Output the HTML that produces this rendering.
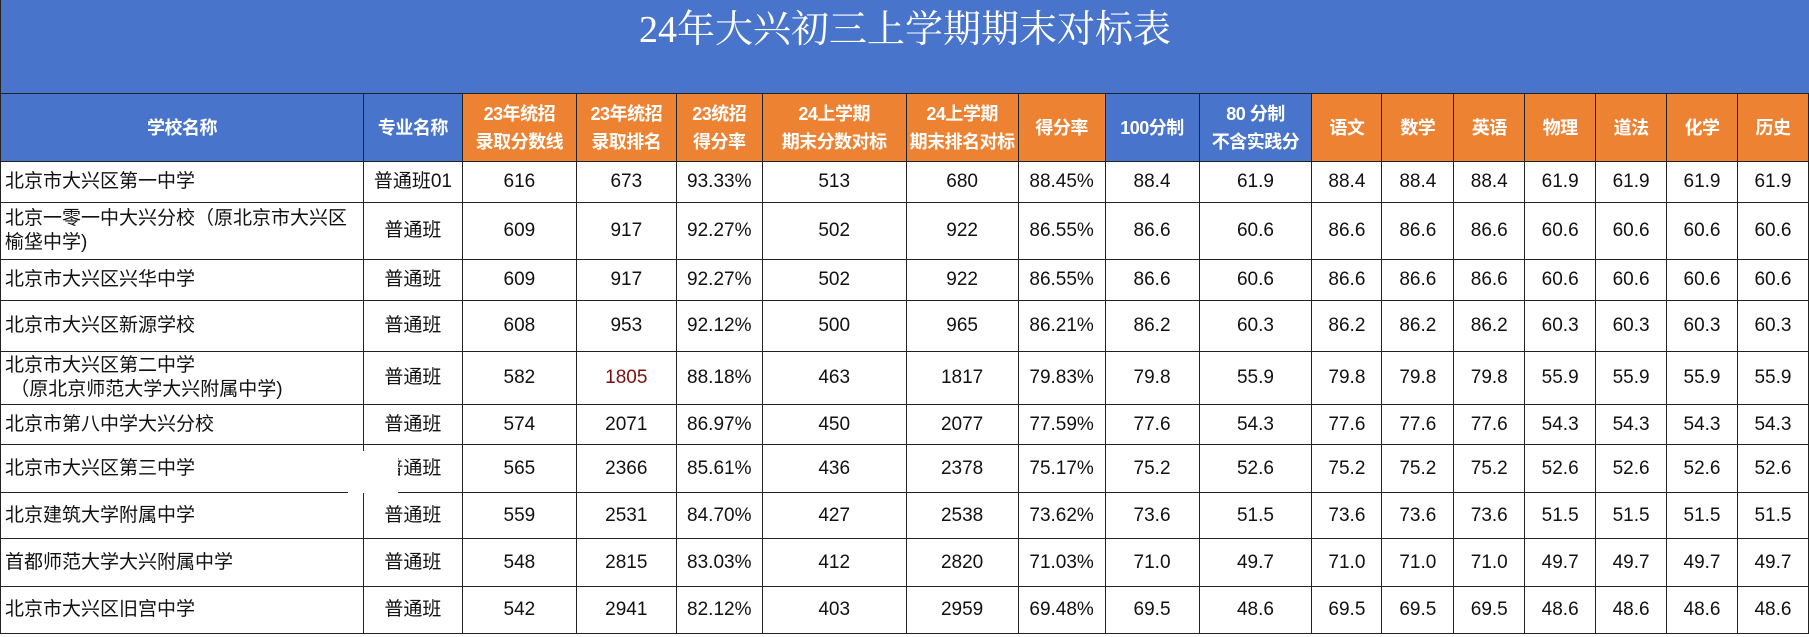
<!DOCTYPE html>
<html><head><meta charset="utf-8"><style>
body{margin:0;width:1809px;height:637px;overflow:hidden;background:#fff;font-family:"Liberation Sans","Noto Sans CJK SC",sans-serif}
.title{position:absolute;left:0;top:0;width:1809px;height:94px;background:#4874CB;color:#fff;font-family:"Liberation Serif","Noto Serif CJK SC",serif;font-size:38px;text-align:center;line-height:60px;border-left:1px solid #222;box-sizing:border-box}
table{position:absolute;left:0;top:93px;border-collapse:collapse;table-layout:fixed}
td{border:1.5px solid #222;text-align:center;font-size:19px;color:#111;padding:0;line-height:24px;white-space:nowrap;overflow:hidden}
tr.h td{color:#fff;font-weight:bold;font-size:18px;letter-spacing:-0.5px;line-height:28px;height:67px}
.b{background:#4874CB}.o{background:#EE8233}
td.l{text-align:left;padding-left:4px}
</style></head><body>
<div class="title">24年大兴初三上学期期末对标表</div>
<table>
<colgroup><col style="width:363px"><col style="width:99px"><col style="width:114px"><col style="width:100px"><col style="width:86px"><col style="width:144px"><col style="width:112px"><col style="width:87px"><col style="width:94px"><col style="width:113px"><col style="width:70px"><col style="width:72px"><col style="width:71px"><col style="width:71px"><col style="width:71px"><col style="width:71px"><col style="width:71px"></colgroup>
<tr class="h"><td class="b">学校名称</td><td class="b">专业名称</td><td class="o">23年统招<br>录取分数线</td><td class="o">23年统招<br>录取排名</td><td class="o">23统招<br>得分率</td><td class="o">24上学期<br>期末分数对标</td><td class="o">24上学期<br>期末排名对标</td><td class="o">得分率</td><td class="b">100分制</td><td class="b">80 分制<br>不含实践分</td><td class="o">语文</td><td class="o">数学</td><td class="o">英语</td><td class="o">物理</td><td class="o">道法</td><td class="o">化学</td><td class="o">历史</td></tr>
<tr style="height:41px"><td class="l">北京市大兴区第一中学</td><td>普通班01</td><td>616</td><td>673</td><td>93.33%</td><td>513</td><td>680</td><td>88.45%</td><td>88.4</td><td>61.9</td><td>88.4</td><td>88.4</td><td>88.4</td><td>61.9</td><td>61.9</td><td>61.9</td><td>61.9</td></tr>
<tr style="height:57px"><td class="l">北京一零一中大兴分校（原北京市大兴区<br>榆垡中学)</td><td>普通班</td><td>609</td><td>917</td><td>92.27%</td><td>502</td><td>922</td><td>86.55%</td><td>86.6</td><td>60.6</td><td>86.6</td><td>86.6</td><td>86.6</td><td>60.6</td><td>60.6</td><td>60.6</td><td>60.6</td></tr>
<tr style="height:41px"><td class="l">北京市大兴区兴华中学</td><td>普通班</td><td>609</td><td>917</td><td>92.27%</td><td>502</td><td>922</td><td>86.55%</td><td>86.6</td><td>60.6</td><td>86.6</td><td>86.6</td><td>86.6</td><td>60.6</td><td>60.6</td><td>60.6</td><td>60.6</td></tr>
<tr style="height:51px"><td class="l">北京市大兴区新源学校</td><td>普通班</td><td>608</td><td>953</td><td>92.12%</td><td>500</td><td>965</td><td>86.21%</td><td>86.2</td><td>60.3</td><td>86.2</td><td>86.2</td><td>86.2</td><td>60.3</td><td>60.3</td><td>60.3</td><td>60.3</td></tr>
<tr style="height:53px"><td class="l">北京市大兴区第二中学<br>&nbsp;（原北京师范大学大兴附属中学)</td><td>普通班</td><td>582</td><td style="color:#7a1010">1805</td><td>88.18%</td><td>463</td><td>1817</td><td>79.83%</td><td>79.8</td><td>55.9</td><td>79.8</td><td>79.8</td><td>79.8</td><td>55.9</td><td>55.9</td><td>55.9</td><td>55.9</td></tr>
<tr style="height:40px"><td class="l">北京市第八中学大兴分校</td><td>普通班</td><td>574</td><td>2071</td><td>86.97%</td><td>450</td><td>2077</td><td>77.59%</td><td>77.6</td><td>54.3</td><td>77.6</td><td>77.6</td><td>77.6</td><td>54.3</td><td>54.3</td><td>54.3</td><td>54.3</td></tr>
<tr style="height:48px"><td class="l">北京市大兴区第三中学</td><td>普通班</td><td>565</td><td>2366</td><td>85.61%</td><td>436</td><td>2378</td><td>75.17%</td><td>75.2</td><td>52.6</td><td>75.2</td><td>75.2</td><td>75.2</td><td>52.6</td><td>52.6</td><td>52.6</td><td>52.6</td></tr>
<tr style="height:46px"><td class="l">北京建筑大学附属中学</td><td>普通班</td><td>559</td><td>2531</td><td>84.70%</td><td>427</td><td>2538</td><td>73.62%</td><td>73.6</td><td>51.5</td><td>73.6</td><td>73.6</td><td>73.6</td><td>51.5</td><td>51.5</td><td>51.5</td><td>51.5</td></tr>
<tr style="height:48px"><td class="l">首都师范大学大兴附属中学</td><td>普通班</td><td>548</td><td>2815</td><td>83.03%</td><td>412</td><td>2820</td><td>71.03%</td><td>71.0</td><td>49.7</td><td>71.0</td><td>71.0</td><td>71.0</td><td>49.7</td><td>49.7</td><td>49.7</td><td>49.7</td></tr>
<tr style="height:47px"><td class="l">北京市大兴区旧宫中学</td><td>普通班</td><td>542</td><td>2941</td><td>82.12%</td><td>403</td><td>2959</td><td>69.48%</td><td>69.5</td><td>48.6</td><td>69.5</td><td>69.5</td><td>69.5</td><td>48.6</td><td>48.6</td><td>48.6</td><td>48.6</td></tr>
</table>
<div style="position:absolute;left:348px;top:451px;width:50px;height:42px;background:#fff"></div>
</body></html>
